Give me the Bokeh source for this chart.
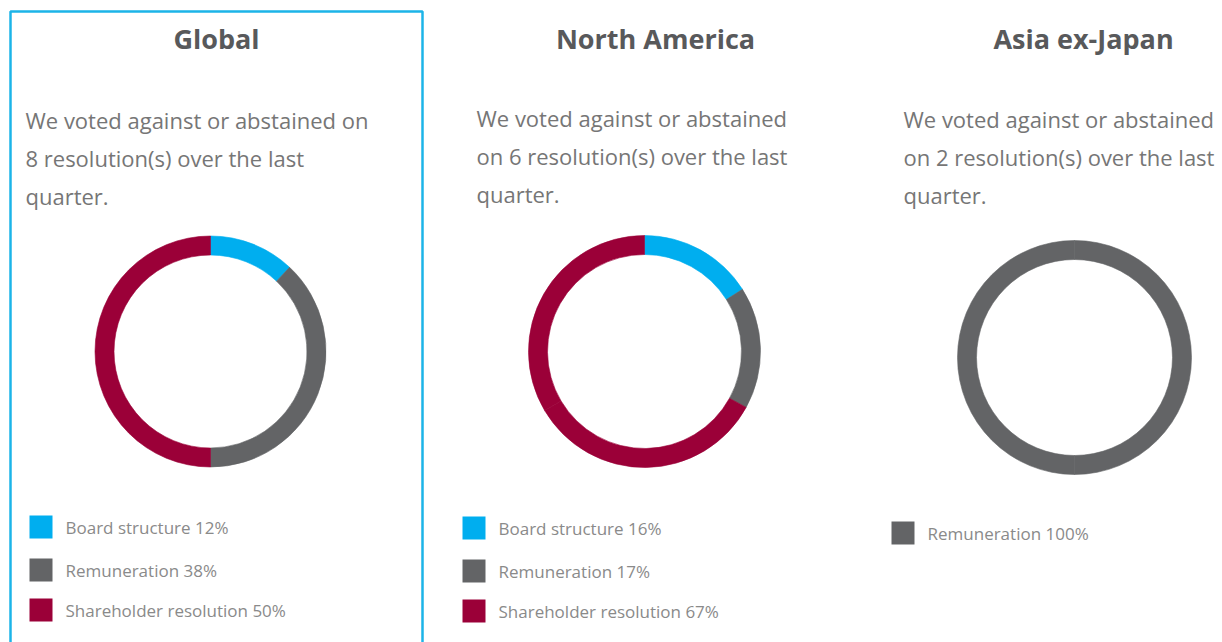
import math
from bokeh.plotting import figure
from bokeh.models import ColumnDataSource, BoxAnnotation
from bokeh.core.properties import value
from bokeh.embed import file_html
from bokeh.resources import INLINE

# ---------------- data ----------------
regions = ["Global", "North America", "Asia ex-Japan"]
resolution_counts = [8, 6, 2]
body_lines = [
    ["We voted against or abstained on", "8 resolution(s) over the last", "quarter."],
    ["We voted against or abstained", "on 6 resolution(s) over the last", "quarter."],
    ["We voted against or abstained", "on 2 resolution(s) over the last", "quarter."],
]
global_categories = ["Board structure", "Remuneration", "Shareholder resolution"]
global_percents = [12, 38, 50]
na_categories = ["Board structure", "Remuneration", "Shareholder resolution"]
na_percents = [16, 17, 67]
asia_categories = ["Remuneration"]
asia_percents = [100]

category_colors = {
    "Board structure": "#00AEEF",
    "Remuneration": "#636466",
    "Shareholder resolution": "#9B0038",
}

# ---------------- layout (pixels, top-left origin) ----------------
W, H = 1222, 642
panels = [
    dict(cx=210, cy=351, title_x=216, body_x=25, body_y=[119, 157, 195],
         leg_sq_x=40.5, leg_y=[526.5, 569.5, 609.5], leg_txt_x=65, r_out=115.5),
    dict(cx=644, cy=351, title_x=655, body_x=476, body_y=[117, 155, 193],
         leg_sq_x=473.5, leg_y=[527.5, 570.5, 610.5], leg_txt_x=498, r_out=116),
    dict(cx=1074, cy=357, title_x=1083, body_x=903, body_y=[118, 156, 194],
         leg_sq_x=902.5, leg_y=[532.5], leg_txt_x=927, r_out=117),
]
ring_width = 19
title_y = 38

def fy(y):
    return H - y

p = figure(width=W, height=H, x_range=(0, W), y_range=(0, H),
           output_backend="svg", toolbar_location=None, min_border=0)
p.axis.visible = False
p.grid.visible = False
p.outline_line_color = None
p.background_fill_color = "white"
p.border_fill_color = "white"

all_cats = [global_categories, na_categories, asia_categories]
all_pcts = [global_percents, na_percents, asia_percents]

title_font = value("Open Sans")
body_font = value("Open Sans")

for i, lay in enumerate(panels):
    cats = all_cats[i]
    pcts = all_pcts[i]
    total = float(sum(pcts))
    # wedges: split into pieces no larger than half a turn
    xs, ys, starts, ends, cols = [], [], [], [], []
    cum = 0.0
    for c, v in zip(cats, pcts):
        frac = v / total
        n = max(1, math.ceil(frac / 0.5 - 1e-9))
        for k in range(n):
            f0 = cum + frac * k / n
            f1 = cum + frac * (k + 1) / n
            xs.append(lay["cx"])
            ys.append(fy(lay["cy"]))
            starts.append(math.pi / 2 - 2 * math.pi * f0)
            ends.append(math.pi / 2 - 2 * math.pi * f1)
            cols.append(category_colors[c])
        cum += frac
    src = ColumnDataSource(dict(x=xs, y=ys, s=starts, e=ends, c=cols))
    p.annular_wedge(x="x", y="y", inner_radius=lay["r_out"] - ring_width,
                    outer_radius=lay["r_out"], start_angle="s", end_angle="e",
                    direction="clock", fill_color="c", line_color="c",
                    line_width=0.6, source=src)

    # title
    p.text(x=[lay["title_x"]], y=[fy(title_y)], text=[regions[i]],
           text_font=title_font, text_font_style="bold", text_font_size="27px",
           text_color="#58595B", text_align="center", text_baseline="middle")

    # body text
    p.text(x=[lay["body_x"]] * len(body_lines[i]), y=[fy(v) for v in lay["body_y"]],
           text=body_lines[i], text_font=body_font, text_font_size="22px",
           text_color="#767676", text_align="left", text_baseline="middle")

    # legend
    lsrc = ColumnDataSource(dict(
        x=[lay["leg_sq_x"]] * len(cats),
        y=[fy(v) for v in lay["leg_y"][:len(cats)]],
        tx=[lay["leg_txt_x"]] * len(cats),
        label=[f"{c} {v}%" for c, v in zip(cats, pcts)],
        c=[category_colors[c] for c in cats],
    ))
    p.rect(x="x", y="y", width=23, height=23, fill_color="c", line_color=None, source=lsrc)
    p.text(x="tx", y="y", text="label", text_font=body_font, text_font_size="17px",
           text_color="#8A8A8A", text_align="left", text_baseline="middle", source=lsrc)

# highlight border around the first panel
p.add_layout(BoxAnnotation(left=10, right=422, bottom=-20, top=fy(11),
                           fill_alpha=0, line_color="#1CB4E8", line_alpha=1.0,
                           line_width=2.5))

open("out.html", "w").write(file_html(p, INLINE))
